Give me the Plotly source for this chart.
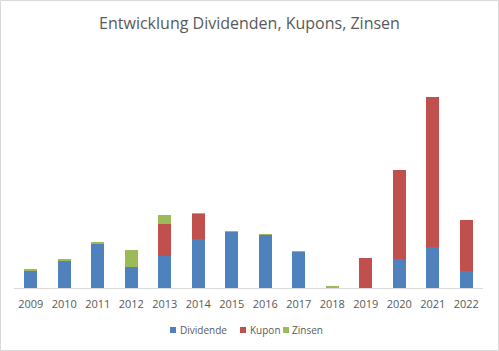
import plotly.graph_objects as go

years = ["2009", "2010", "2011", "2012", "2013", "2014", "2015", "2016",
         "2017", "2018", "2019", "2020", "2021", "2022"]
dividende = [17.6, 27.5, 44.6, 21.3, 32.3, 49.3, 56.0, 53.0, 36.0, 0.5, 0.0, 29.0, 40.6, 16.6]
kupon = [0.0, 0.0, 0.0, 0.0, 31.3, 24.7, 0.0, 0.0, 0.0, 0.0, 30.0, 89.3, 150.7, 51.7]
zinsen = [1.7, 0.6, 1.7, 17.0, 9.0, 0.5, 0.6, 0.5, 0.5, 0.8, 0.0, 0.0, 0.0, 0.0]

series_names = ["Dividende", "Kupon", "Zinsen"]
series_colors = ["#4F81BD", "#C0504D", "#9BBB59"]

W, H = 499, 351
L, R, T, B = 14, 16, 80, 63
pw, ph = W - L - R, H - T - B


def px_x(p):
    return (p - L) / pw


def px_y(p):
    return (H - B - p) / ph


fig = go.Figure()
for name, vals, col in zip(series_names, [dividende, kupon, zinsen], series_colors):
    fig.add_bar(x=years, y=vals, name=name, marker_color=col, marker_line_width=0)

# custom legend (compact, Excel-like)
legend_sq_x = [170, 240, 283]
legend_txt_x = [177.5, 247.5, 290]
legend_y = 330
shapes = [dict(type="rect", xref="paper", yref="paper",
               x0=-(L - 0.5) / pw, x1=1 + (R - 0.5) / pw,
               y0=-(B - 0.5) / ph, y1=1 + (T - 0.5) / ph,
               line=dict(color="#D9D9D9", width=1), layer="below")]
annotations = []
for sx, tx, name, col in zip(legend_sq_x, legend_txt_x, series_names, series_colors):
    shapes.append(dict(type="rect", xref="paper", yref="paper",
                       x0=px_x(sx), x1=px_x(sx + 6), y0=px_y(legend_y + 3), y1=px_y(legend_y - 3),
                       fillcolor=col, line=dict(width=0)))
    annotations.append(dict(text=name, xref="paper", yref="paper", x=px_x(tx), y=px_y(legend_y),
                            xanchor="left", yanchor="middle", showarrow=False,
                            font=dict(size=10, color="#595959")))

fig.update_layout(
    width=W, height=H,
    margin=dict(l=L, r=R, t=T, b=B, autoexpand=False),
    barmode="stack", bargap=0.6,
    paper_bgcolor="white", plot_bgcolor="white",
    font=dict(family="Open Sans", color="#595959", size=11),
    title=dict(text="Entwicklung Dividenden, Kupons, Zinsen", x=0.5, xanchor="center",
               y=1 - 23 / H, yanchor="middle", font=dict(size=16, color="#595959")),
    showlegend=False,
    xaxis=dict(showgrid=False, showline=True, linecolor="#D9D9D9", linewidth=1,
               ticks="", ticklabelstandoff=6, automargin=False,
               tickfont=dict(size=11, color="#595959")),
    yaxis=dict(range=[0, ph], showgrid=False, showticklabels=False, zeroline=False,
               showline=False, automargin=False),
    shapes=shapes,
    annotations=annotations,
)

fig.write_html("out.html")
